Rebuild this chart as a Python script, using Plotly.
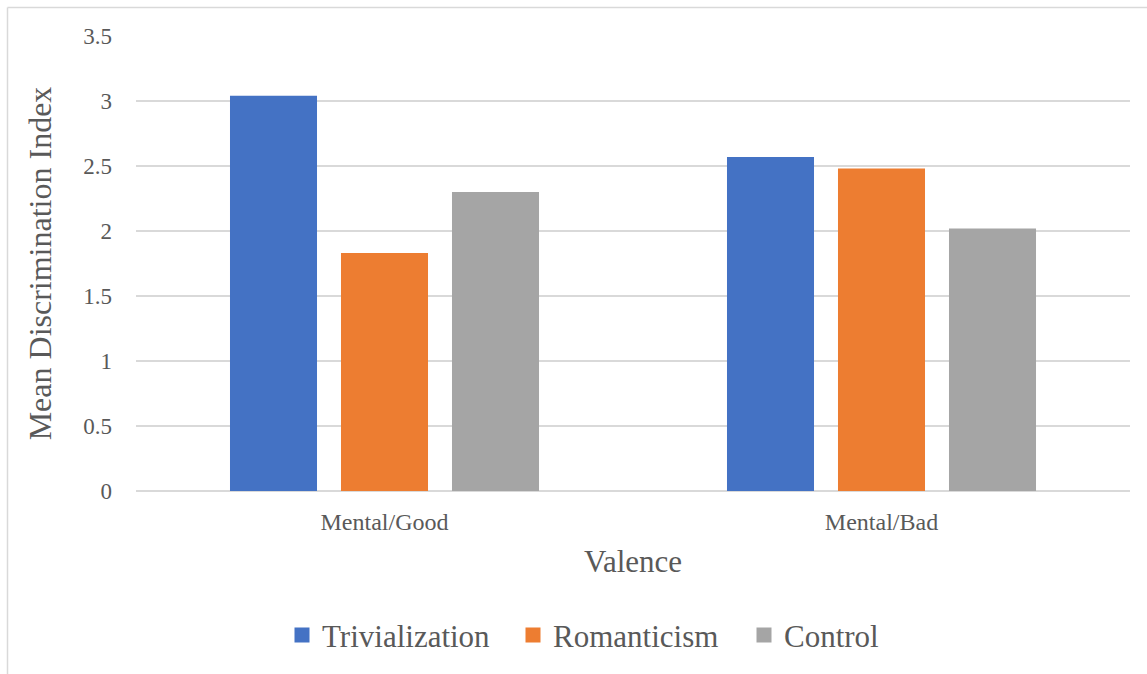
import plotly.graph_objects as go

# Mean discrimination index by valence and framing condition
categories = ["Mental/Good", "Mental/Bad"]
trivialization = [3.04, 2.57]
romanticism = [1.83, 2.48]
control = [2.30, 2.02]

series = [
    ("Trivialization", trivialization, "#4472C4"),
    ("Romanticism", romanticism, "#ED7D31"),
    ("Control", control, "#A5A5A5"),
]

W, H = 1147, 674
ml, mr, mt, mb = 136, 17, 36, 181
pw, ph = W - ml - mr, H - mt - mb

serif = "Liberation Serif"
grey = "#595959"

fig = go.Figure()
for name, vals, col in series:
    fig.add_trace(go.Bar(
        x=categories, y=vals, name=name, showlegend=False,
        marker=dict(color=col, line=dict(width=0)),
    ))
# square legend keys
for name, vals, col in series:
    fig.add_trace(go.Scatter(
        x=[None], y=[None], name=name, mode="markers",
        marker=dict(symbol="square", size=15, color=col, line=dict(width=0)),
    ))

fig.update_layout(
    width=W, height=H,
    margin=dict(l=ml, r=mr, t=mt, b=mb, pad=0),
    paper_bgcolor="white", plot_bgcolor="white",
    barmode="group", bargap=0.33, bargroupgap=0.216,
    font=dict(family=serif, color=grey),
    showlegend=True,
    legend=dict(
        orientation="h", x=(282 - ml) / pw, xanchor="left",
        y=-(638 - (mt + ph)) / ph, yanchor="middle",
        font=dict(size=31, family=serif, color=grey),
        itemwidth=30, tracegroupgap=0,
        entrywidth=186, entrywidthmode="pixels",
        bgcolor="rgba(0,0,0,0)",
    ),
    xaxis=dict(
        showline=False, showgrid=False, ticks="",
        tickfont=dict(size=24, family=serif, color=grey),
        ticklabelstandoff=14,
        title=dict(text="Valence", font=dict(size=31, family=serif, color=grey), standoff=16),
    ),
    yaxis=dict(
        range=[0, 3.5], dtick=0.5, tickformat="~g",
        showgrid=True, gridcolor="#D9D9D9", gridwidth=1.5,
        zeroline=True, zerolinecolor="#D9D9D9", zerolinewidth=1.5,
        showline=False, ticks="",
        tickfont=dict(size=23, family=serif, color=grey),
        ticklabelstandoff=23,
        title=dict(text="Mean Discrimination Index", font=dict(size=32, family=serif, color=grey), standoff=22),
    ),
    shapes=[
        dict(type="line", xref="paper", yref="paper",
             x0=(7.5 - ml) / pw, x1=(7.5 - ml) / pw,
             y0=1 + (mt - 7.5) / ph, y1=-(mb + 10) / ph,
             line=dict(color="#D9D9D9", width=1.5)),
        dict(type="line", xref="paper", yref="paper",
             x0=(7.5 - ml) / pw, x1=(W + 10 - ml) / pw,
             y0=1 + (mt - 7.5) / ph, y1=1 + (mt - 7.5) / ph,
             line=dict(color="#D9D9D9", width=1.5)),
    ],
)

fig.write_html("out.html")
